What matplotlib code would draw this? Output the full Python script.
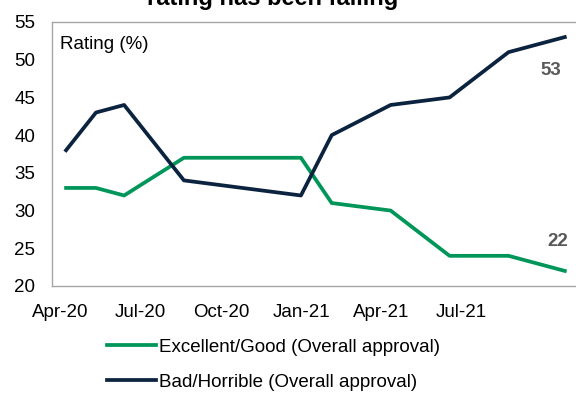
import matplotlib

matplotlib.use("Agg")
import matplotlib.pyplot as plt
import pandas as pd

plt.rcParams["font.family"] = ["Liberation Sans", "DejaVu Sans"]

survey_dates = [
    "2020-04-08", "2020-05-12", "2020-06-13", "2020-08-20", "2020-12-31",
    "2021-02-04", "2021-04-12", "2021-06-18", "2021-08-24", "2021-10-27",
]
excellent_good = [33, 33, 32, 37, 37, 31, 30, 24, 24, 22]
bad_horrible = [38, 43, 44, 34, 32, 40, 44, 45, 51, 53]
tick_dates = ["2020-04-01", "2020-07-01", "2020-10-01", "2021-01-01", "2021-04-01", "2021-07-01"]
tick_labels = ["Apr-20", "Jul-20", "Oct-20", "Jan-21", "Apr-21", "Jul-21"]
y_ticks = [20, 25, 30, 35, 40, 45, 50, 55]

GREEN = "#00965A"
NAVY = "#0C2340"
GREY = "#595959"

dates = pd.to_datetime(survey_dates)
ticks = pd.to_datetime(tick_dates)

fig = plt.figure(figsize=(5.76, 3.94), dpi=100)
ax = fig.add_axes([52 / 576, 108 / 394, 526 / 576, 264 / 394])

ax.plot(dates, excellent_good, color=GREEN, linewidth=2.7, label="Excellent/Good (Overall approval)")
ax.plot(dates, bad_horrible, color=NAVY, linewidth=2.7, label="Bad/Horrible (Overall approval)")

ax.set_ylim(20, 55)
ax.set_yticks(y_ticks)
ax.set_xlim(pd.Timestamp("2020-03-23"), pd.Timestamp("2021-11-11"))
ax.set_xticks(ticks)
ax.set_xticklabels(tick_labels)
ax.tick_params(axis="both", length=0, labelsize=13.5, colors="black")
ax.tick_params(axis="y", pad=12)
ax.tick_params(axis="x", pad=13)
for side in ["left", "top", "bottom"]:
    ax.spines[side].set_color("#A6A6A6")
    ax.spines[side].set_linewidth(1.0)
ax.spines["right"].set_visible(False)

ax.text(0.016, 0.913, "Rating (%)", transform=ax.transAxes, fontsize=13.5, va="center", ha="left")

# end-of-series value labels
ax.annotate(f"{bad_horrible[-1]}", xy=(dates[-1], bad_horrible[-1]), xytext=(-10, -24),
            textcoords="offset points", fontsize=13.5, fontweight="bold", color=GREY,
            ha="center", va="center")
ax.annotate(f"{excellent_good[-1]}", xy=(dates[-1], excellent_good[-1]), xytext=(-5, 21),
            textcoords="offset points", fontsize=13.5, fontweight="bold", color=GREY,
            ha="center", va="center")

fig.text(273 / 576, 1 - 5 / 394, "rating has been falling", fontsize=17, fontweight="bold",
         ha="center", va="baseline")

ax.legend(loc="upper left", bbox_to_anchor=(0.09, -0.17), frameon=False, fontsize=13.5,
          handlelength=2.6, handletextpad=0.2, labelspacing=0.97, borderaxespad=0)

fig.savefig("out.png", dpi=100)
plt.close(fig)
